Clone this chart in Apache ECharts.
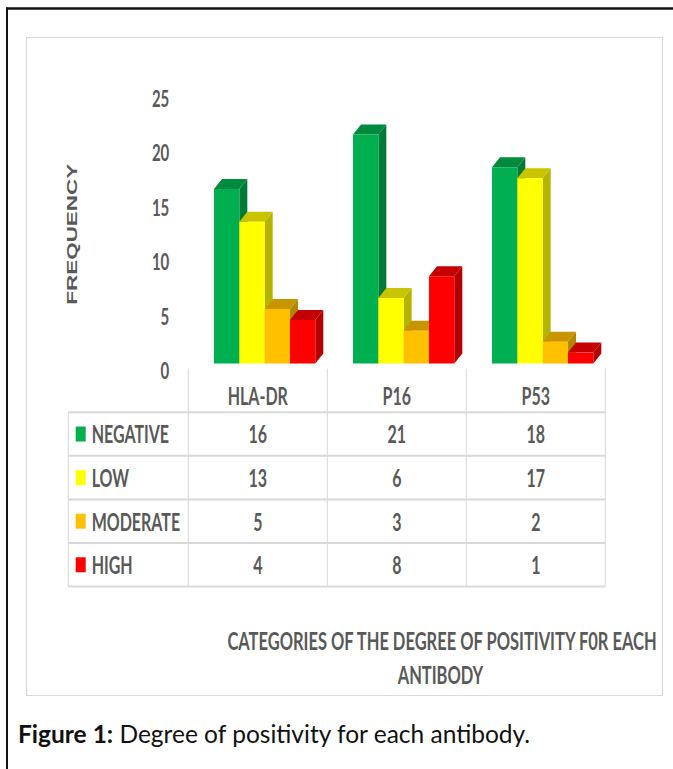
<!DOCTYPE html>
<html>
<head>
<meta charset="utf-8">
<script src="https://cdn.jsdelivr.net/npm/echarts@6/dist/echarts.min.js"></script>
<style>
  html, body { margin: 0; padding: 0; background: #fff; }
  #page { position: absolute; left: 0; top: 0; width: 673px; height: 769px; }
  #chart { position: absolute; left: 27px; top: 37.5px; width: 636px; height: 438px;
           transform: scaleY(1.5); transform-origin: 0 0; }
</style>
</head>
<body>
<div id="page"></div>
<div id="chart"></div>
<script>
// ---- data ----
const categories = ['HLA-DR', 'P16', 'P53'];
const levels = ['NEGATIVE', 'LOW', 'MODERATE', 'HIGH'];
const negative = [16, 21, 18];
const low = [13, 6, 17];
const moderate = [5, 3, 2];
const high = [4, 8, 1];
const yTicks = [0, 5, 10, 15, 20, 25];
const yTitle = 'FREQUENCY';
const xTitle = ['CATEGORIES OF THE DEGREE OF POSITIVITY F0R EACH', 'ANTIBODY'];
const caption = ['Figure 1:', ' Degree of positivity for each antibody.'];

const seriesValues = [negative, low, moderate, high];

// ---- styles ----
const frontColors = ['#00B050', '#FFFF00', '#FFC000', '#FF0000'];
const sideColors  = ['#007A37', '#B3B300', '#B38600', '#B30000'];
const topColors   = ['#008A3E', '#C8C400', '#C89400', '#C40000'];
const textColor = '#595959';
const lineColor = '#D9D9D9';
const FONT = 'Lato, "Noto Sans", sans-serif';

// layout (unstretched chart coordinates)
const GRID_LEFT = 161.3, GRID_RIGHT = 57.7, GRID_TOP = 40, GRID_BOTTOM = 216.33;
const CHART_W = 636, CHART_H = 438;
const BAR_FRAC = 0.1822, SHIFT = 6.86, LIFT = 4.67, DX = 8, DY = 6.67;

// ---- background page (frame + caption) ----
const bg = echarts.init(document.getElementById('page'), null, { renderer: 'svg' });
bg.setOption({
  animation: false,
  graphic: [
    { type: 'line', shape: { x1: 6, y1: 8.5, x2: 673, y2: 8.5 }, style: { stroke: '#111', lineWidth: 2.5 } },
    { type: 'line', shape: { x1: 7, y1: 7.5, x2: 7, y2: 769 }, style: { stroke: '#111', lineWidth: 2 } },
    { type: 'rect', shape: { x: 26.5, y: 37.5, width: 636, height: 658 }, style: { fill: 'none', stroke: lineColor, lineWidth: 1.2 } },
    { type: 'text', x: 18, y: 733,
      style: { text: '{b|' + caption[0] + '}' + caption[1], fontFamily: FONT, fontSize: 24.5, fill: '#111',
               verticalAlign: 'middle', rich: { b: { fontWeight: 'bold', fontFamily: FONT, fontSize: 24.5, fill: '#111' } } } }
  ]
});

// ---- chart ----
const chart = echarts.init(document.getElementById('chart'), null, { renderer: 'svg' });

function renderBar(params, api) {
  const si = params.seriesIndex;
  const cat = api.value(0), val = api.value(1);
  const base = api.coord([cat, 0]);
  const top = api.coord([cat, val]);
  const band = api.size([1, 0])[0];
  const bw = band * BAR_FRAC;
  const x0 = base[0] + SHIFT + (si - 2) * bw;
  const yb = base[1] - LIFT, yt = top[1] - LIFT;
  return {
    type: 'group',
    children: [
      { type: 'polygon', shape: { points: [[x0 + bw, yb], [x0 + bw + DX, yb - DY], [x0 + bw + DX, yt - DY], [x0 + bw, yt]] },
        style: { fill: sideColors[si] } },
      { type: 'polygon', shape: { points: [[x0, yt], [x0 + DX, yt - DY], [x0 + bw + DX, yt - DY], [x0 + bw, yt]] },
        style: { fill: topColors[si] } },
      { type: 'rect', shape: { x: x0, y: yt, width: bw, height: yb - yt }, style: { fill: frontColors[si] } }
    ]
  };
}

const band = (CHART_W - GRID_LEFT - GRID_RIGHT) / categories.length;
const tableTop = 220.3, rowTop = 249.5, rowH = 29.05;
const graphics = [];
// vertical column lines
for (let i = 0; i <= categories.length; i++) {
  const x = GRID_LEFT + i * band;
  graphics.push({ type: 'line', shape: { x1: x, y1: tableTop, x2: x, y2: rowTop + levels.length * rowH },
                  style: { stroke: lineColor, lineWidth: 1 } });
}
graphics.push({ type: 'line', shape: { x1: 41.3, y1: rowTop, x2: 41.3, y2: rowTop + levels.length * rowH },
                style: { stroke: lineColor, lineWidth: 1 } });
for (let r = 0; r <= levels.length; r++) {
  const y = rowTop + r * rowH;
  graphics.push({ type: 'line', shape: { x1: 41.3, y1: y, x2: GRID_LEFT + categories.length * band, y2: y },
                  style: { stroke: lineColor, lineWidth: 1.3 } });
}
levels.forEach((lv, r) => {
  const cy = rowTop + (r + 0.5) * rowH;
  graphics.push({ type: 'rect', shape: { x: 48.7, y: cy - 5, width: 10, height: 10 }, style: { fill: frontColors[r] } });
  graphics.push({ type: 'text', x: 64.7, y: cy, style: { text: lv, fontFamily: FONT, fontWeight: 'bold', fontSize: 16,
                  fill: textColor, verticalAlign: 'middle', align: 'left' } });
  seriesValues[r].forEach((v, c) => {
    graphics.push({ type: 'text', x: GRID_LEFT + (c + 0.5) * band, y: cy,
                    style: { text: String(v), fontFamily: FONT, fontWeight: 'bold', fontSize: 16,
                             fill: textColor, verticalAlign: 'middle', align: 'center' } });
  });
});
graphics.push({ type: 'text', x: 415, y: 401, style: { text: xTitle[0], fontFamily: FONT, fontWeight: 'bold', fontSize: 16.5,
                fill: textColor, verticalAlign: 'middle', align: 'center' } });
graphics.push({ type: 'text', x: 413.5, y: 424.3, style: { text: xTitle[1], fontFamily: FONT, fontWeight: 'bold', fontSize: 16.5,
                fill: textColor, verticalAlign: 'middle', align: 'center' } });

chart.setOption({
  animation: false,
  grid: { left: GRID_LEFT, right: GRID_RIGHT, top: GRID_TOP, bottom: GRID_BOTTOM },
  xAxis: {
    type: 'category', data: categories,
    axisLine: { show: false }, axisTick: { show: false },
    axisLabel: { margin: 8.7, fontFamily: FONT, fontWeight: 'bold', fontSize: 16, lineHeight: 16, color: textColor },
    splitLine: { show: false }
  },
  yAxis: {
    type: 'value', min: yTicks[0], max: yTicks[yTicks.length - 1], interval: yTicks[1] - yTicks[0],
    axisLine: { show: false }, axisTick: { show: false }, splitLine: { show: false },
    axisLabel: { margin: 19, fontFamily: FONT, fontWeight: 'bold', fontSize: 15, color: textColor },
    name: yTitle, nameLocation: 'middle', nameRotate: 90, nameGap: 109,
    nameTextStyle: { fontFamily: '"Liberation Sans", Arial, sans-serif', fontWeight: 'bold', fontSize: 15, color: textColor }
  },
  graphic: graphics,
  series: levels.map((lv, si) => ({
    type: 'custom', name: lv, renderItem: renderBar,
    data: seriesValues[si].map((v, i) => [i, v]),
    encode: { x: 0, y: 1 }, z: 2 + si
  }))
});
</script>
</body>
</html>
